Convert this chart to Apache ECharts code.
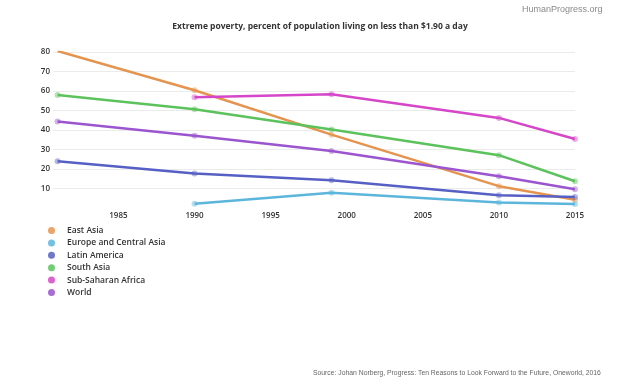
<!DOCTYPE html>
<html>
<head>
<meta charset="utf-8">
<script src="https://cdn.jsdelivr.net/npm/echarts@6/dist/echarts.min.js"></script>
<style>
html,body{margin:0;padding:0;background:#fff;}
#chart{width:624px;height:386px;}
</style>
</head>
<body>
<div id="chart"></div>
<script>
const years = [1981, 1990, 1999, 2010, 2015];
const xTickLabels = [1985, 1990, 1995, 2000, 2005, 2010, 2015];
const yTickLabels = [10, 20, 30, 40, 50, 60, 70, 80];
const seriesNames = ["East Asia", "Europe and Central Asia", "Latin America", "South Asia", "Sub-Saharan Africa", "World"];
const eastAsia = [80.5, 60.4, 37.6, 11.2, 4.2];
const europeCentralAsia = [null, 2.2, 7.8, 2.8, 2.0];
const latinAmerica = [24.0, 17.7, 14.2, 6.5, 5.6];
const southAsia = [58.0, 50.6, 40.2, 27.1, 13.7];
const subSaharanAfrica = [null, 56.8, 58.3, 46.2, 35.4];
const world = [44.3, 37.0, 29.2, 16.3, 9.6];
const colors = ["#e5944f", "#5cb6dc", "#5660c4", "#5bc25c", "#d546c8", "#9a55cf"];

const allValues = [eastAsia, europeCentralAsia, latinAmerica, southAsia, subSaharanAfrica, world];

function toPairs(vals) {
  const out = [];
  vals.forEach((v, i) => { if (v !== null) out.push([years[i], v]); });
  return out;
}

const chart = echarts.init(document.getElementById('chart'), null, {renderer: 'canvas'});
const labelFont = '"Open Sans", "DejaVu Sans", sans-serif';

chart.setOption({
  animation: false,
  backgroundColor: '#ffffff',
  color: colors,
  title: {
    text: 'Extreme poverty, percent of population living on less than $1.90 a day',
    left: 315, top: 17, textAlign: 'center',
    textStyle: {fontFamily: labelFont, fontSize: 8.5, fontWeight: 'bold', color: '#333'}
  },
  graphic: [
    {type: 'text', left: 522, top: 5, style: {text: 'HumanProgress.org', fontFamily: 'Liberation Sans, Arial, sans-serif', fontSize: 9, fill: '#8a8a8a'}},
    {type: 'text', left: 313, top: 370, style: {text: 'Source: Johan Norberg, Progress: Ten Reasons to Look Forward to the Future, Oneworld, 2016', fontFamily: 'Liberation Sans, Arial, sans-serif', fontSize: 6.8, fill: '#666'}}
  ],
  legend: {
    orient: 'vertical', left: 43, top: 221,
    icon: 'circle', itemWidth: 7, itemHeight: 7, itemGap: 3.4,
    data: seriesNames.map((n, i) => ({name: n, itemStyle: {color: colors[i], opacity: 0.85}})),
    textStyle: {fontFamily: labelFont, fontSize: 8.5, fontWeight: 600, color: '#333', lineHeight: 8.3, padding: [0,0,0,7]}
  },
  grid: {left: 53, right: 49, top: 52, bottom: 178},
  xAxis: {
    type: 'value', min: 1980.7, max: 2015,
    axisLine: {show: false}, axisTick: {show: false}, splitLine: {show: false},
    axisLabel: {customValues: xTickLabels, margin: 4, fontFamily: labelFont, fontSize: 8, fontWeight: 600, color: '#333', formatter: v => String(v)}
  },
  yAxis: {
    type: 'value', min: 0, max: 80, interval: 10,
    axisLine: {show: false}, axisTick: {show: false},
    splitLine: {show: true, showMinLine: false, lineStyle: {color: '#ebebeb', width: 1}},
    axisLabel: {customValues: yTickLabels, margin: 3, fontFamily: labelFont, fontSize: 8, fontWeight: 600, color: '#333'}
  },
  series: seriesNames.map((name, i) => ({
    name: name, type: 'line', data: toPairs(allValues[i]),
    symbol: 'circle', symbolSize: 6, showSymbol: true,
    lineStyle: {width: 2.5, color: colors[i]},
    itemStyle: {color: echarts.color.modifyAlpha(colors[i], 0.45), borderWidth: 0},
    emphasis: {disabled: true}
  }))
});
</script>
</body>
</html>
